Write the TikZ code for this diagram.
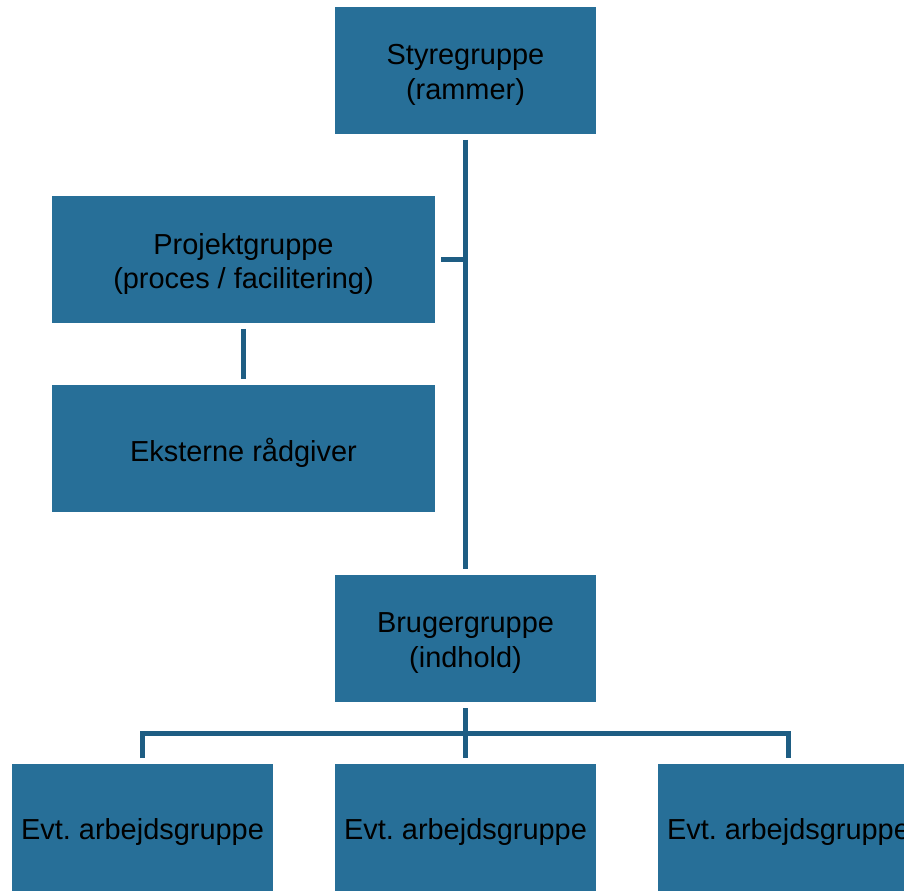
\documentclass[tikz,border=0pt]{standalone}
\usepackage{fontspec}
\setmainfont{Liberation Sans}
\frenchspacing
\definecolor{boxblue}{RGB}{39,111,152}
\definecolor{lineblue}{RGB}{30,93,131}
\begin{document}
\begin{tikzpicture}[x=0.75pt, y=-0.75pt,
    lbl/.style={align=center, text=black, inner sep=0pt, yshift=-3.5pt,
      font=\fontsize{21.7}{26}\selectfont},
    box/.style={fill=boxblue, inner sep=0pt, outer sep=4.5pt},
    narrow/.style={box, minimum width=195.75pt, minimum height=95.25pt},
    wide/.style={box, minimum width=287.25pt, minimum height=95.25pt},
    conn/.style={draw=lineblue, line width=3.75pt, line join=miter}]
    \useasboundingbox (0,0) rectangle (904,891);

    \node[narrow, label={[lbl]center:{Styregruppe\\(rammer)}}] (styre) at (465.5, 70.5) {};
    \node[wide, label={[lbl]center:{Projektgruppe\\(proces / facilitering)}}] (proj) at (243.5, 259.5) {};
    \node[wide, label={[lbl]center:{Eksterne rådgiver}}] (ekstern) at (243.5, 448.5) {};
    \node[narrow, label={[lbl]center:{Brugergruppe\\(indhold)}}] (bruger) at (465.5, 638.5) {};

    \foreach \n in {1,2,3} {
      \pgfmathsetmacro\x{142.5 + (\n-1)*323}
      \node[narrow, label={[lbl]center:{Evt. arbejdsgruppe}}] (arb\n) at (\x, 827.5) {};
    }

    % main line and side branch
    \draw[conn] (styre) -- (bruger);
    \draw[conn] (proj.east) -- (proj.east -| styre.south);
    \draw[conn] (proj) -- (ekstern);

    % branches to the working groups
    \coordinate (bus) at (465.5, 733);
    \draw[conn] (bruger) -- (arb2);
    \draw[conn] (arb1.north) -- (arb1.north |- bus) -- (arb3.north |- bus) -- (arb3.north);

  \end{tikzpicture}
\end{document}
